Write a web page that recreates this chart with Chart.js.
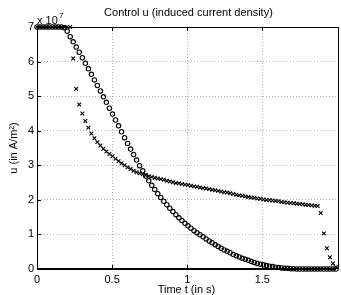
<!DOCTYPE html>
<html>
<head>
    <title>Control u</title>
    <script src="https://cdn.jsdelivr.net/npm/chart.js"></script>
    <style>
        body { margin: 0; background: #fff; }
    </style>
</head>
<body>
    <canvas id="uChart" width="341" height="295"></canvas>

    <script>
        // time samples (s)
        const times = [
            0, 0.020, 0.040, 0.060, 0.080, 0.101, 0.121, 0.141, 0.161, 0.181,
            0.201, 0.221, 0.241, 0.261, 0.281, 0.302, 0.322, 0.342, 0.362, 0.382,
            0.402, 0.422, 0.442, 0.462, 0.482, 0.503, 0.523, 0.543, 0.563, 0.583,
            0.603, 0.623, 0.643, 0.663, 0.683, 0.704, 0.724, 0.744, 0.764, 0.784,
            0.804, 0.824, 0.844, 0.864, 0.884, 0.905, 0.925, 0.945, 0.965, 0.985,
            1.005, 1.025, 1.045, 1.065, 1.085, 1.106, 1.126, 1.146, 1.166, 1.186,
            1.206, 1.226, 1.246, 1.266, 1.286, 1.307, 1.327, 1.347, 1.367, 1.387,
            1.407, 1.427, 1.447, 1.467, 1.487, 1.508, 1.528, 1.548, 1.568, 1.588,
            1.608, 1.628, 1.648, 1.668, 1.688, 1.709, 1.729, 1.749, 1.769, 1.789,
            1.809, 1.829, 1.849, 1.869, 1.889, 1.910, 1.930, 1.950, 1.970, 1.990
        ];

        // u in units of 1e7 A/m^2, circle markers
        const uCircles = [
            7.00, 7.00, 7.00, 7.00, 7.00, 7.00, 7.00, 7.00, 7.00, 6.98,
            6.88, 6.72, 6.57, 6.42, 6.27, 6.11, 5.95, 5.79, 5.63, 5.47,
            5.31, 5.15, 4.98, 4.82, 4.65, 4.48, 4.31, 4.14, 3.97, 3.80,
            3.63, 3.47, 3.31, 3.15, 2.99, 2.84, 2.69, 2.55, 2.42, 2.30,
            2.18, 2.07, 1.96, 1.86, 1.76, 1.66, 1.57, 1.48, 1.40, 1.32,
            1.25, 1.18, 1.11, 1.05, 0.99, 0.93, 0.87, 0.81, 0.76, 0.70,
            0.65, 0.60, 0.55, 0.51, 0.47, 0.42, 0.38, 0.35, 0.31, 0.28,
            0.25, 0.22, 0.19, 0.16, 0.14, 0.12, 0.10, 0.08, 0.07, 0.05,
            0.04, 0.03, 0.02, 0.02, 0.01, 0.01, 0, 0, 0, 0,
            0, 0, 0, 0, 0, 0, 0, 0, 0, 0
        ];

        // u in units of 1e7 A/m^2, cross markers
        const uCrosses = [
            7.00, 7.00, 7.00, 7.00, 7.00, 7.00, 7.00, 7.00, 7.00, 7.00,
            7.00, 7.00, 6.09, 5.21, 4.76, 4.50, 4.28, 4.09, 3.92, 3.78,
            3.67, 3.57, 3.48, 3.40, 3.33, 3.26, 3.19, 3.12, 3.06, 3.00,
            2.94, 2.89, 2.84, 2.80, 2.77, 2.74, 2.71, 2.68, 2.66, 2.64,
            2.62, 2.60, 2.58, 2.55, 2.53, 2.51, 2.49, 2.48, 2.46, 2.44,
            2.43, 2.41, 2.39, 2.38, 2.36, 2.34, 2.33, 2.31, 2.29, 2.28,
            2.26, 2.24, 2.22, 2.21, 2.19, 2.17, 2.15, 2.13, 2.12, 2.10,
            2.08, 2.07, 2.06, 2.04, 2.03, 2.01, 2.00, 1.99, 1.98, 1.97,
            1.96, 1.94, 1.93, 1.92, 1.91, 1.90, 1.89, 1.88, 1.87, 1.86,
            1.85, 1.84, 1.83, 1.82, 1.62, 1.03, 0.60, 0.34, 0.16, 0.06
        ];

        const xTicks = [0, 0.5, 1, 1.5];
        const yTicks = [0, 1, 2, 3, 4, 5, 6, 7];

        Chart.defaults.font.family = '"Liberation Sans", Arial, sans-serif';
        Chart.defaults.font.size = 11;
        Chart.defaults.color = '#000';

        // frame, inward tick marks, title and the x10^7 exponent
        const matlabBox = {
            id: 'matlabBox',
            afterDraw(chart) {
                const { ctx, chartArea: a, scales } = chart;
                ctx.save();
                ctx.strokeStyle = '#000';
                ctx.lineWidth = 1;
                ctx.strokeRect(Math.round(a.left) + 0.5, Math.round(a.top) + 0.5,
                    Math.round(a.right - a.left) + 2, Math.round(a.bottom - a.top) - 1);
                ctx.beginPath();
                xTicks.forEach(v => {
                    const px = Math.round(scales.x.getPixelForValue(v)) + 0.5;
                    ctx.moveTo(px, a.top); ctx.lineTo(px, a.top + 4);
                    ctx.moveTo(px, a.bottom); ctx.lineTo(px, a.bottom - 4);
                });
                yTicks.forEach(v => {
                    const py = Math.round(scales.y.getPixelForValue(v)) + 0.5;
                    ctx.moveTo(a.left, py); ctx.lineTo(a.left + 4, py);
                });
                ctx.stroke();

                ctx.fillStyle = '#000';
                ctx.textAlign = 'center';
                ctx.textBaseline = 'alphabetic';
                ctx.font = '11px "Liberation Sans", Arial, sans-serif';
                ctx.fillText('Control u (induced current density)', (a.left + a.right) / 2 + 2, 16);

                ctx.textAlign = 'left';
                ctx.fillText('x 10', a.left, 24);
                ctx.font = '8px "Liberation Sans", Arial, sans-serif';
                ctx.fillText('7', a.left + 22, 18);
                ctx.restore();
            }
        };

        const ctx = document.getElementById('uChart').getContext('2d');
        new Chart(ctx, {
            type: 'scatter',
            data: {
                datasets: [
                    {
                        label: 'circles',
                        data: times.map((t, i) => ({ x: t, y: uCircles[i] })),
                        pointStyle: 'circle',
                        pointRadius: 2.2,
                        borderWidth: 1.1,
                        borderColor: '#000',
                        backgroundColor: 'rgba(0,0,0,0)',
                        clip: false
                    },
                    {
                        label: 'crosses',
                        data: times.map((t, i) => ({ x: t, y: uCrosses[i] })),
                        pointStyle: 'crossRot',
                        pointRadius: 2.6,
                        borderWidth: 1.1,
                        borderColor: '#000',
                        backgroundColor: '#000',
                        clip: false
                    }
                ]
            },
            options: {
                responsive: false,
                animation: false,
                layout: { padding: { top: 27, right: 0, left: 0, bottom: 0 } },
                plugins: {
                    legend: { display: false },
                    tooltip: { enabled: false }
                },
                scales: {
                    x: {
                        type: 'linear',
                        min: 0,
                        max: 1.99,
                        afterBuildTicks: s => { s.ticks = xTicks.map(v => ({ value: v })); },
                        afterFit: s => { s.height = 26; },
                        ticks: { padding: 4, maxRotation: 0, callback: v => String(v) },
                        grid: { color: '#b4b4b4', drawTicks: false },
                        border: { display: true, color: '#000', dash: [1, 2] },
                        title: { display: true, text: 'Time t (in s)', font: { lineHeight: 1.0 }, padding: { top: 0, bottom: 0 } }
                    },
                    y: {
                        min: 0,
                        max: 7,
                        afterBuildTicks: s => { s.ticks = yTicks.map(v => ({ value: v })); },
                        afterFit: s => { s.width = 37; },
                        ticks: { padding: 3, callback: v => String(v) },
                        grid: { color: '#b4b4b4', drawTicks: false },
                        border: { display: true, color: '#000', dash: [1, 2] },
                        title: { display: true, text: 'u (in A/m²)', padding: { top: 7, bottom: 0 } }
                    }
                }
            },
            plugins: [matlabBox]
        });
    </script>
</body>
</html>
